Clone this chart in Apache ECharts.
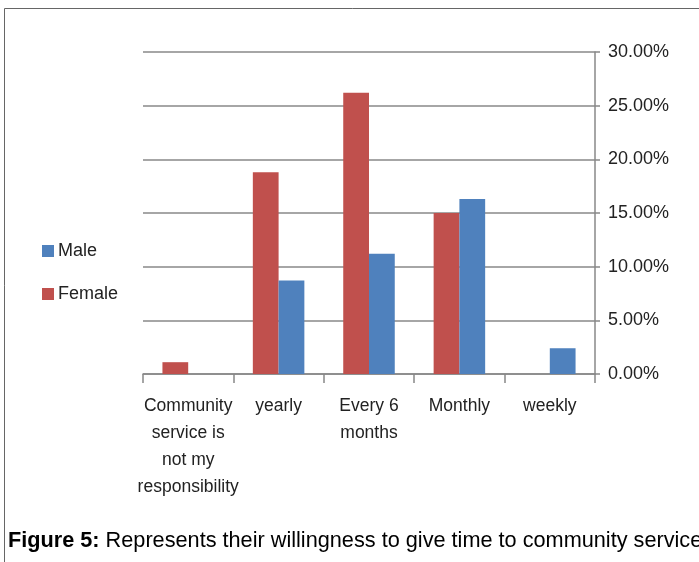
<!DOCTYPE html>
<html>
<head>
<meta charset="utf-8">
<script src="https://cdn.jsdelivr.net/npm/echarts@6/dist/echarts.min.js"></script>
<style>
  html, body { margin: 0; padding: 0; background: #fff; }
  #chart { width: 699px; height: 562px; }
</style>
</head>
<body>
<div id="chart"></div>
<script>
// 类别与数据
const categories = ['Community\nservice is\nnot my\nresponsibility', 'yearly', 'Every 6\nmonths', 'Monthly', 'weekly'];
const femaleValues = [1.1, 18.8, 26.2, 15.0, null];
const maleValues = [null, 8.7, 11.2, 16.3, 2.4];
const legendNames = ['Male', 'Female'];

const axisGray = '#888888';
const font = 'Liberation Sans, Arial, sans-serif';

const myChart = echarts.init(document.getElementById('chart'));

const option = {
  animation: false,
  color: ['#C0504D', '#4F81BD'],
  textStyle: { fontFamily: font },
  grid: { left: 143, right: 104, top: 52, bottom: 188 },
  legend: {
    data: legendNames,
    orient: 'vertical',
    left: 37,
    top: 237,
    itemWidth: 12,
    itemHeight: 12,
    itemGap: 25,
    icon: 'rect',
    textStyle: { fontSize: 18, color: '#222', fontFamily: font, padding: [0, 0, 0, -1] },
  },
  xAxis: {
    type: 'category',
    data: categories,
    axisLine: { lineStyle: { color: axisGray, width: 1.5 } },
    axisTick: { show: true, length: 9, lineStyle: { color: axisGray, width: 1.5 } },
    axisLabel: {
      fontSize: 17.5, color: '#222', lineHeight: 27, margin: 19,
      interval: 0, fontFamily: font,
    },
  },
  yAxis: {
    type: 'value',
    position: 'right',
    min: 0,
    max: 30,
    interval: 5,
    axisLine: { show: true, lineStyle: { color: axisGray, width: 1.5 } },
    axisTick: { show: true, inside: false, length: 5, lineStyle: { color: axisGray, width: 1.5 } },
    splitLine: { lineStyle: { color: axisGray, width: 1.5 } },
    axisLabel: {
      fontSize: 18, color: '#222', margin: 13, fontFamily: font,
      formatter: v => v.toFixed(2) + '%',
    },
  },
  series: [
    {
      name: 'Female',
      type: 'bar',
      data: femaleValues,
      barGap: '0%',
      barCategoryGap: '43%',
    },
    {
      name: 'Male',
      type: 'bar',
      data: maleValues,
      barGap: '0%',
      barCategoryGap: '43%',
    },
  ],
  graphic: [
    // 外框
    {
      type: 'rect',
      shape: { x: 4.5, y: 8.5, width: 720, height: 600 },
      style: { fill: null, stroke: '#666', lineWidth: 1 },
      silent: true,
    },
    // 图注
    {
      type: 'text',
      left: 8,
      top: 530,
      style: {
        text: '{b|Figure 5:} Represents their willingness to give time to community services',
        rich: {
          b: { fontWeight: 'bold', fontSize: 21.7, fontFamily: font, fill: '#000' },
        },
        fontSize: 21.7,
        fontFamily: font,
        fill: '#000',
      },
    },
  ],
};

myChart.setOption(option);
</script>
</body>
</html>
